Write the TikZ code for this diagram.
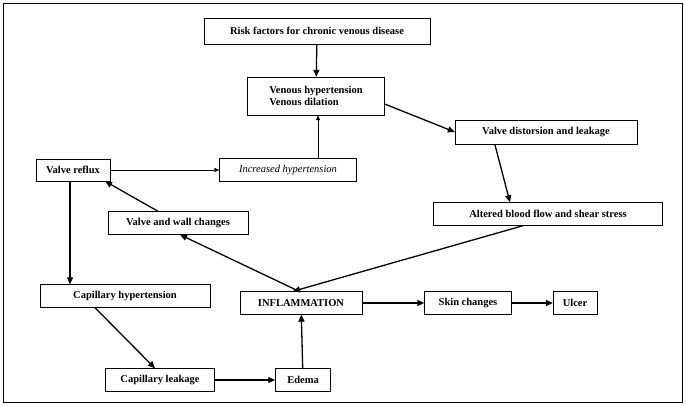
\documentclass[tikz,border=0pt]{standalone}
\usepackage{fontspec}
\setmainfont{Liberation Serif}
\usetikzlibrary{arrows.meta}
\begin{document}
\begin{tikzpicture}[x=1pt,y=-1pt,
  bx/.style={draw,thin,font=\fontsize{10.5}{12}\selectfont\bfseries,inner sep=3pt,align=center,anchor=center},
  thick arr/.style={line width=1.3pt,-{Triangle[length=7pt,width=6pt]}},
  thin arr/.style={thin,-{Triangle[length=5pt,width=4pt]}}]
\useasboundingbox (0,0) rectangle (686,406);
\draw[thin] (3,3) rectangle (682,402);
\node[bx,minimum width=226,minimum height=26] (risk) at (317,31) {Risk factors for chronic venous disease};
\node[bx,minimum width=137,minimum height=38,align=left] (ven) at (316,96) {Venous hypertension\\Venous dilation};
\node[bx,minimum width=182,minimum height=24] (dist) at (546,132) {Valve distorsion and leakage};
\node[bx,minimum width=74,minimum height=22] (refl) at (73,170) {Valve reflux};
\node[bx,minimum width=137,minimum height=23,font=\fontsize{10.5}{12}\selectfont\itshape] (inc) at (288,170) {Increased hypertension};
\node[bx,minimum width=140,minimum height=23] (vwc) at (178,223) {Valve and wall changes};
\node[bx,minimum width=229,minimum height=23] (alt) at (548,214) {Altered blood flow and shear stress};
\node[bx,minimum width=170,minimum height=23] (caph) at (125,296) {Capillary hypertension};
\node[bx,minimum width=122,minimum height=23] (inf) at (301,303) {INFLAMMATION};
\node[bx,minimum width=87,minimum height=23] (skin) at (468,303) {Skin changes};
\node[bx,minimum width=44,minimum height=23] (ulc) at (575,303) {Ulcer};
\node[bx,minimum width=109,minimum height=23] (capl) at (160,380) {Capillary leakage};
\node[bx,minimum width=55,minimum height=23] (ede) at (303,380) {Edema};
\draw[thick arr] (risk) -- (ven);
\draw[thick arr] ([yshift=-8pt]ven.east) -- (dist.west);
\draw[thick arr] ([xshift=40pt]dist.south west) -- ([xshift=-38pt]alt.north);
\draw[thick arr] ([xshift=-25pt]alt.south) -- ([xshift=-8pt]inf.north);
\draw[thick arr] ([xshift=-2pt]inf.north) -- ([xshift=2pt]vwc.south);
\draw[thick arr] ([xshift=-20pt]vwc.north) -- ([xshift=32pt]refl.south);
\draw[thin arr] (refl) -- (inc);
\draw[thin arr] ([xshift=30pt]inc.north) -- ([xshift=2pt]ven.south);
\draw[thick arr] ([xshift=-3pt]refl.south) -- ([xshift=-55pt]caph.north);
\draw[thick arr] ([xshift=-30pt]caph.south) -- ([xshift=-5pt]capl.north);
\draw[thick arr] (capl) -- (ede);
\draw[thick arr] (ede) -- (inf);
\draw[thick arr] (inf) -- (skin);
\draw[thick arr] (skin) -- (ulc);
\end{tikzpicture}
\end{document}
